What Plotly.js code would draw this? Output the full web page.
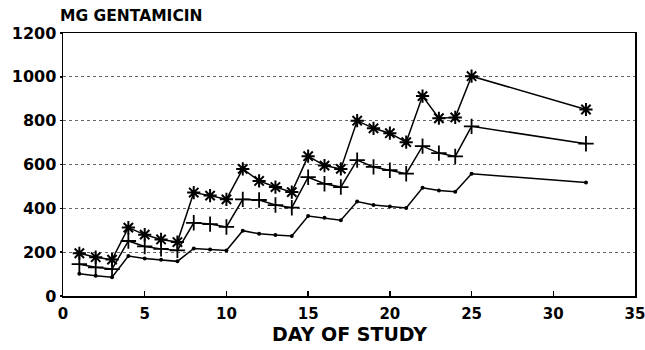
<!DOCTYPE html>
<html>
<head>
<meta charset="utf-8">
<script src="https://cdn.plot.ly/plotly-3.0.1.min.js"></script>
<style>html,body{margin:0;padding:0;background:#fff}#chart{width:645px;height:350px}</style>
</head>
<body>
<div id="chart"></div>
<script>
const days = [1,2,3,4,5,6,7,8,9,10,11,12,13,14,15,16,17,18,19,20,21,22,23,24,25,32];
const starSeries = [195,177,166,312,280,258,246,472,458,441,580,525,497,474,638,595,580,800,765,743,702,912,811,815,1003,851];
const plusSeries = [145,131,123,251,226,215,208,334,328,315,441,438,415,403,542,512,497,620,589,574,558,684,652,637,774,695];
const dotSeries  = [102,92,86,182,171,165,158,217,212,208,298,284,278,274,365,357,346,431,415,408,402,494,481,476,558,518];
const xTicks = [0,5,10,15,20,25,30,35];
const yTicks = [0,200,400,600,800,1000,1200];

const FAM = 'DejaVu Sans, Liberation Sans, sans-serif';
const lineStyle = {color:'#000', width:1.5};
const traces = [
  {x:days, y:dotSeries, mode:'lines+markers', line:lineStyle,
   marker:{symbol:'circle', size:4, color:'#000'}},
  {x:days, y:plusSeries, mode:'lines+markers', line:lineStyle,
   marker:{symbol:'cross-thin-open', size:11, color:'#000', line:{color:'#000', width:1.8}}},
  {x:days, y:starSeries, mode:'lines+markers', line:lineStyle,
   marker:{symbol:'asterisk-open', size:11, color:'#000', line:{color:'#000', width:2}}}
];

const tickFont = {family:FAM, size:16, color:'#000', weight:'bold'};
const xTickFont = {family:FAM, size:15, color:'#000', weight:'bold'};
const layout = {
  width:645, height:350,
  margin:{l:63, r:10, t:33, b:54},
  paper_bgcolor:'#fff', plot_bgcolor:'#fff',
  showlegend:false,
  xaxis:{range:[0,35], tickvals:xTicks, ticktext:xTicks.map(String),
    ticks:'inside', ticklen:5, tickwidth:1.5, tickcolor:'#000',
    showline:true, linecolor:'#000', linewidth:1.5, mirror:true,
    showgrid:false, zeroline:false, tickfont:xTickFont, ticklabelstandoff:3,
    ticklabeloverflow:'allow'},
  yaxis:{range:[0,1200], tickvals:yTicks, ticktext:yTicks.map(String),
    ticks:'outside', ticklen:2, tickwidth:1.5, tickcolor:'#000',
    showline:true, linecolor:'#000', linewidth:1.5, mirror:true,
    showgrid:true, gridcolor:'#666', griddash:'dot', gridwidth:1,
    zeroline:false, tickfont:tickFont, ticklabeloverflow:'allow'},
  annotations:[
    {text:'MG GENTAMICIN', xref:'paper', yref:'paper', x:0, y:1,
     xanchor:'left', yanchor:'bottom', yshift:6, xshift:-5, showarrow:false,
     font:{family:FAM, size:15.5, color:'#000', weight:'bold'}},
    {text:'DAY OF STUDY', xref:'paper', yref:'paper', x:0.5, y:0,
     xanchor:'center', yanchor:'top', yshift:-26, borderpad:0, showarrow:false,
     font:{family:FAM, size:19, color:'#000', weight:'bold'}}
  ]
};
Plotly.newPlot('chart', traces, layout, {staticPlot:true, displayModeBar:false});
</script>
</body>
</html>
